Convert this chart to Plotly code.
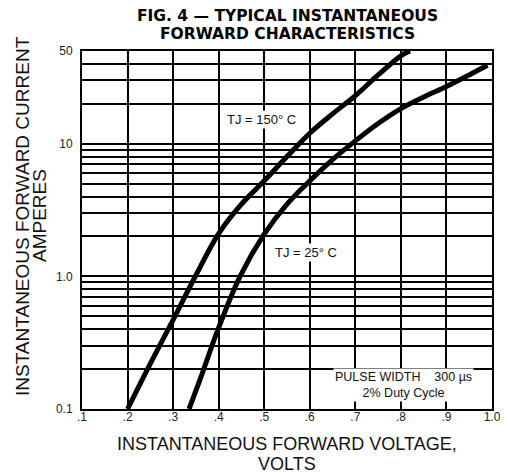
import plotly.graph_objects as go

# forward voltage (V) and current (A)
v_150 = [0.2, 0.25, 0.3, 0.35, 0.4, 0.45, 0.5, 0.55, 0.6, 0.65, 0.7, 0.75, 0.8, 0.82]
i_150 = [0.1, 0.22, 0.47, 1.02, 2.1, 3.5, 5.25, 8.0, 12.0, 16.8, 23.0, 33.0, 46.0, 50.0]

v_25 = [0.335, 0.36, 0.4, 0.447, 0.5, 0.55, 0.6, 0.65, 0.7, 0.75, 0.8, 0.85, 0.9, 0.95, 0.99]
i_25 = [0.1, 0.17, 0.41, 1.0, 2.08, 3.5, 5.25, 7.6, 10.5, 14.2, 18.4, 22.5, 27.0, 33.0, 39.0]

x_ticks = [0.1, 0.2, 0.3, 0.4, 0.5, 0.6, 0.7, 0.8, 0.9, 1.0]
x_labels = [".1", ".2", ".3", ".4", ".5", ".6", ".7", ".8", ".9", "1.0"]
y_ticks = [0.1, 1, 10, 50]
y_labels = ["0.1", "1.0", "10", "50"]
y_minor = [0.2, 0.3, 0.4, 0.5, 0.6, 0.7, 0.8, 0.9,
           2, 3, 4, 5, 6, 7, 8, 9, 20, 30, 40]

fnt = "Liberation Sans, Arial, sans-serif"

fig = go.Figure()
fig.add_trace(go.Scatter(x=v_150, y=i_150, mode="lines", line=dict(color="black", width=5, shape="spline"),
                         showlegend=False, hoverinfo="skip"))
fig.add_trace(go.Scatter(x=v_25, y=i_25, mode="lines", line=dict(color="black", width=5, shape="spline"),
                         showlegend=False, hoverinfo="skip"))

# curve labels and test conditions
fig.add_annotation(x=0.493, y=1.18, text="TJ = 150° C", showarrow=False, bgcolor="white",
                   font=dict(size=13, color="#111"))
fig.add_annotation(x=0.592, y=0.18, text="TJ = 25° C", showarrow=False, bgcolor="white",
                   font=dict(size=13, color="#111"))
fig.add_annotation(x=0.805, y=-0.82, text="PULSE WIDTH    300 µs<br>2% Duty Cycle", showarrow=False,
                   bgcolor="white", font=dict(size=12.5, color="#111"), align="center")

# title lines
for txt, ys in [("FIG. 4 — TYPICAL INSTANTANEOUS", 35), ("FORWARD CHARACTERISTICS", 17)]:
    fig.add_annotation(xref="paper", yref="paper", x=0.5, y=1, xanchor="center", yanchor="middle", yshift=ys,
                       text="<b>" + txt + "</b>", showarrow=False,
                       font=dict(family="DejaVu Sans, sans-serif", size=15.5, color="black"))

# axis titles
fig.add_annotation(xref="paper", yref="paper", x=0.5, y=0, yanchor="middle", yshift=-35,
                   text="INSTANTANEOUS FORWARD VOLTAGE,", showarrow=False, font=dict(size=18, color="#111"))
fig.add_annotation(xref="paper", yref="paper", x=0.5, y=0, yanchor="middle", yshift=-55, text="VOLTS",
                   showarrow=False, font=dict(size=18, color="#111"))
fig.add_annotation(xref="paper", yref="paper", x=0, y=0.5, xanchor="center", yanchor="middle",
                   xshift=-60, yshift=14, textangle=-90,
                   text="INSTANTANEOUS FORWARD CURRENT", showarrow=False, font=dict(size=19, color="#111"))
fig.add_annotation(xref="paper", yref="paper", x=0, y=0.5, xanchor="center", yanchor="middle",
                   xshift=-43, yshift=14, textangle=-90,
                   text="AMPERES", showarrow=False, font=dict(size=19, color="#111"))

fig.update_xaxes(range=[0.1, 1.0], tickvals=x_ticks, ticktext=x_labels, showgrid=True,
                 gridcolor="black", gridwidth=2, showline=True, linecolor="black", linewidth=2,
                 mirror=True, ticks="", zeroline=False, automargin=False, ticklabelstandoff=-4,
                 tickfont=dict(size=12, color="#222"))
fig.update_yaxes(type="log", range=[-1, 1.699], tickvals=y_ticks, ticktext=y_labels, showgrid=True,
                 gridcolor="black", gridwidth=2, showline=True, linecolor="black", linewidth=2,
                 mirror=True, ticks="", automargin=False, ticklabelstandoff=5, tickfont=dict(size=12, color="#222"),
                 minor=dict(tickvals=y_minor, showgrid=True, gridcolor="black", gridwidth=2, ticks=""))

# page has an 8px body margin, so the figure is 8px smaller than the window
fig.update_layout(
    width=500, height=465,
    margin=dict(l=74, r=16, t=43, b=64),
    paper_bgcolor="white", plot_bgcolor="white",
    font=dict(family=fnt, color="#111"),
)

fig.write_html("out.html")
